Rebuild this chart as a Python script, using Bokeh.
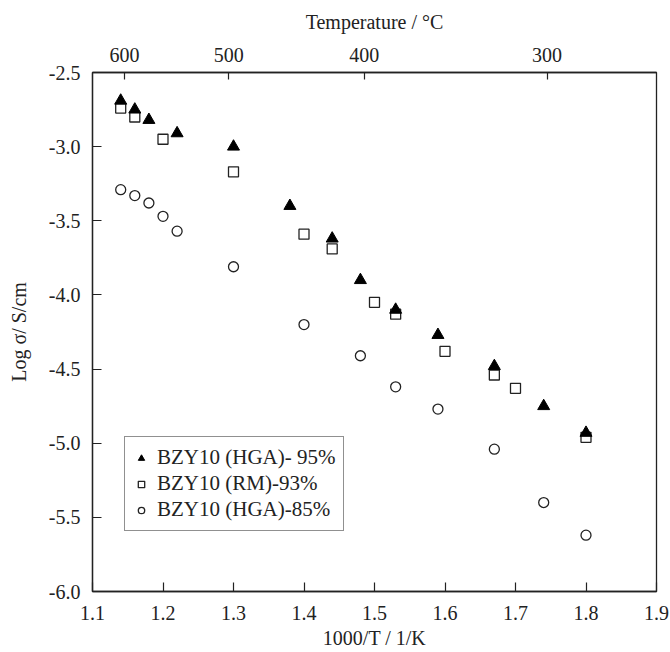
from bokeh.plotting import figure
from bokeh.models import (LinearAxis, FixedTicker, Range1d, Legend, LegendItem,
                          NumeralTickFormatter, CustomJSTickFormatter)
from bokeh.embed import file_html
from bokeh.resources import INLINE

# ---- data ----
x_hga95 = [1.14, 1.16, 1.18, 1.22, 1.30, 1.38, 1.44, 1.48, 1.53, 1.59, 1.67, 1.74, 1.80]
y_hga95 = [-2.69, -2.75, -2.82, -2.91, -3.00, -3.40, -3.62, -3.90, -4.10, -4.27, -4.48, -4.75, -4.93]

x_rm93 = [1.14, 1.16, 1.20, 1.30, 1.40, 1.44, 1.50, 1.53, 1.60, 1.67, 1.70, 1.80]
y_rm93 = [-2.74, -2.80, -2.95, -3.17, -3.59, -3.69, -4.05, -4.13, -4.38, -4.54, -4.63, -4.96]

x_hga85 = [1.14, 1.16, 1.18, 1.20, 1.22, 1.30, 1.40, 1.48, 1.53, 1.59, 1.67, 1.74, 1.80]
y_hga85 = [-3.29, -3.33, -3.38, -3.47, -3.57, -3.81, -4.20, -4.41, -4.62, -4.77, -5.04, -5.40, -5.62]

x_ticks = [1.1, 1.2, 1.3, 1.4, 1.5, 1.6, 1.7, 1.8, 1.9]
y_ticks = [-6.0, -5.5, -5.0, -4.5, -4.0, -3.5, -3.0, -2.5]
temp_ticks_c = [600, 500, 400, 300]
temp_tick_pos = [1000.0 / (t + 273.15) for t in temp_ticks_c]

labels = ["BZY10 (HGA)- 95%", "BZY10 (RM)-93%", "BZY10 (HGA)-85%"]

FONT = "Liberation Serif"
INK = "#222222"

p = figure(width=670, height=652, x_range=Range1d(1.1, 1.9), y_range=Range1d(-6.0, -2.5),
           output_backend="svg", toolbar_location=None, x_axis_location=None,
           y_axis_location=None,
           min_border_left=92, min_border_right=14, min_border_top=72, min_border_bottom=61)
p.background_fill_color = "white"
p.border_fill_color = "white"
p.xgrid.visible = False
p.ygrid.visible = False
p.outline_line_color = INK
p.outline_line_width = 1.3

bottom = LinearAxis(ticker=FixedTicker(ticks=x_ticks),
                    formatter=NumeralTickFormatter(format="0.0"),
                    axis_label="1000/T / 1/K")
left = LinearAxis(ticker=FixedTicker(ticks=y_ticks),
                  formatter=NumeralTickFormatter(format="0.0"),
                  axis_label="Log σ/ S/cm")
top = LinearAxis(ticker=FixedTicker(ticks=temp_tick_pos),
                 formatter=CustomJSTickFormatter(code="return Math.round(1000/tick - 273.15).toString();"),
                 axis_label="Temperature / °C")
p.add_layout(bottom, "below")
p.add_layout(left, "left")
p.add_layout(top, "above")

for ax in [bottom, left, top]:
    ax.axis_line_color = INK
    ax.axis_line_width = 1.3
    ax.major_tick_line_color = INK
    ax.major_tick_line_width = 1.2
    ax.major_tick_out = 0
    ax.major_tick_in = 9
    ax.minor_tick_line_color = None
    ax.major_label_text_font = FONT
    ax.major_label_text_font_size = "20px"
    ax.major_label_text_color = INK
    ax.axis_label_text_font = FONT
    ax.axis_label_text_font_size = "20px"
    ax.axis_label_text_font_style = "normal"
    ax.axis_label_text_color = INK

top.major_tick_in = 7
top.major_label_standoff = 11
top.axis_label_standoff = 12

bottom.major_label_standoff = 14
bottom.axis_label_standoff = 4

left.major_label_standoff = 12
left.axis_label_standoff = 16

r_sq = p.scatter(x_rm93, y_rm93, marker="square", size=10, fill_color="white",
                 line_color=INK, line_width=1.3)
r_tri = p.scatter(x_hga95, y_hga95, marker="triangle", size=12, fill_color="black",
                  line_color="black", line_width=1)
r_ci = p.scatter(x_hga85, y_hga85, marker="circle", size=10, fill_color="white",
                 line_color=INK, line_width=1.3)

legend = Legend(items=[LegendItem(label=labels[0], renderers=[r_tri]),
                       LegendItem(label=labels[1], renderers=[r_sq]),
                       LegendItem(label=labels[2], renderers=[r_ci])],
                location=(32, 60))
legend.border_line_color = INK
legend.border_line_width = 1.3
legend.background_fill_color = "white"
legend.background_fill_alpha = 1
legend.label_text_font = FONT
legend.label_text_font_size = "21px"
legend.label_text_color = INK
legend.label_height = 20
legend.glyph_height = 20
legend.glyph_width = 16
legend.label_standoff = 8
legend.spacing = 1
legend.padding = 8
legend.margin = 0
p.add_layout(legend)

open("out.html", "w").write(file_html(p, INLINE))
